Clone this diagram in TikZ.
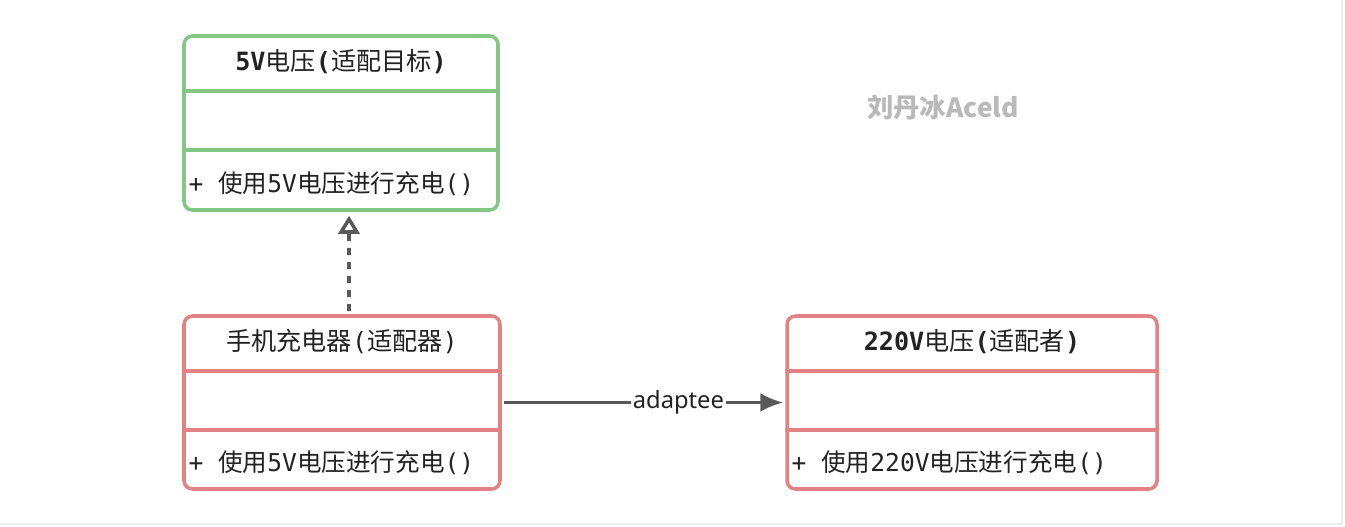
\documentclass[tikz,border=0pt]{standalone}
\usepackage{fontspec}
\setmainfont{Noto Sans}
\setmonofont{DejaVu Sans Mono}
\newfontfamily\cjk{Noto Sans CJK SC}
\usetikzlibrary{arrows.meta,positioning,calc}
\definecolor{verdeuml}{RGB}{130,199,132}
\definecolor{vermuml}{RGB}{226,130,132}
\definecolor{cinzaseta}{RGB}{89,89,89}
\definecolor{textoesc}{RGB}{34,34,34}
\definecolor{marcadagua}{RGB}{185,185,185}
\definecolor{moldura}{RGB}{236,236,236}
\newcommand{\zh}[1]{{\cjk\mdseries #1}}

\begin{document}
\begin{tikzpicture}[
classe/.style={draw, line width=2pt, rounded corners=0.17cm, fill=white},
titulo/.style={font=\fontsize{14.3}{16}\selectfont\ttfamily, text=textoesc},
metodo/.style={font=\fontsize{14}{16}\selectfont\ttfamily, text=textoesc, anchor=west, inner sep=0pt},
divisor/.style={line width=2pt},
seta/.style={-{Latex[length=4.6mm,width=3.8mm]}, line width=2pt, draw=cinzaseta},
realiza/.style={-{Triangle[open,length=3.6mm,width=4.2mm,line width=2pt]}, dash pattern=on 4pt off 4pt, line width=2pt, draw=cinzaseta}
]
\useasboundingbox (0,0) rectangle (26.9,-10.54);
\draw[moldura, line width=0.8pt] (26.84,0) -- (26.84,-10.48) -- (0,-10.48);
% classes
\node[classe, draw=verdeuml, minimum width=6.28cm, minimum height=3.48cm] (alvo) at (6.82,-2.46) {};
\node[classe, draw=vermuml, minimum width=6.32cm, minimum height=3.46cm] (adaptador) at (6.84,-8.05) {};
\node[classe, draw=vermuml, minimum width=7.40cm, minimum height=3.46cm] (adaptado) at (19.44,-8.05) {};
% divisores
\foreach \c/\cor in {alvo/verdeuml, adaptador/vermuml, adaptado/vermuml} {
  \draw[divisor, \cor] ([yshift=-1.14cm]\c.north west) -- ([yshift=-1.14cm]\c.north east);
  \draw[divisor, \cor] ([yshift=-2.32cm]\c.north west) -- ([yshift=-2.32cm]\c.north east);
}
% textos
\node[titulo] (alvotit) at ([yshift=-0.54cm]alvo.north) {\bfseries 5V\zh{电压}(\zh{适配目标})};
\node[metodo] (alvomet) at ([xshift=0.12cm, yshift=0.56cm]alvo.south west) {+ \zh{使用}5V\zh{电压进行充电}()};
\node[titulo] (adaptadortit) at ([yshift=-0.54cm]adaptador.north) {\zh{手机充电器}(\zh{适配器})};
\node[metodo] (adaptadormet) at ([xshift=0.12cm, yshift=0.56cm]adaptador.south west) {+ \zh{使用}5V\zh{电压进行充电}()};
\node[titulo] (adaptadotit) at ([yshift=-0.54cm]adaptado.north) {\bfseries 220V\zh{电压}(\zh{适配者})};
\node[metodo] (adaptadomet) at ([xshift=0.12cm, yshift=0.56cm]adaptado.south west) {+ \zh{使用}220V\zh{电压进行充电}()};
% marca
\node[font=\cjk\bfseries\fontsize{15}{17}\selectfont, text=marcadagua] (marca) at (18.86,-2.14) {刘丹冰Aceld};
% relacoes
\draw[realiza] ([xshift=0.14cm, yshift=0.06cm]adaptador.north) -- ([xshift=0.16cm, yshift=-0.08cm]alvo.south);
\draw[seta] ([xshift=0.04cm]adaptador.east) -- node[pos=0.625, fill=white, inner sep=1pt, font=\fontsize{13.5}{15}\selectfont, text=textoesc] (rotulo) {adaptee} ([xshift=-0.04cm]adaptado.west);
\end{tikzpicture}
\end{document}
